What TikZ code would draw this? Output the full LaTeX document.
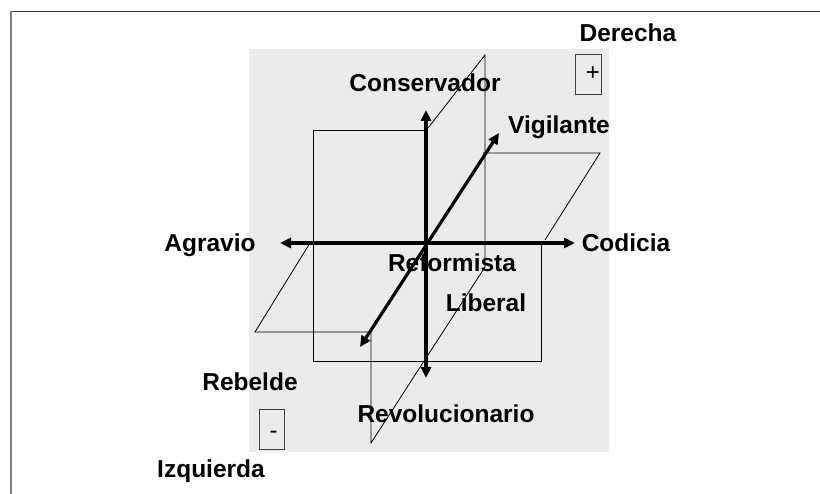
\documentclass[tikz,border=0pt]{standalone}
\usepackage{fontspec}
\setmainfont{Liberation Sans}
\usetikzlibrary{arrows.meta}

\tikzset{
  lbl/.style={font=\bfseries\fontsize{24.5}{28}\selectfont, inner sep=0pt, text height=17.5pt, text depth=0pt},
  sign/.style={font=\fontsize{24}{28}\selectfont, inner sep=0pt},
  signbox/.style={draw=black!75, line width=0.9pt, minimum width=26pt, minimum height=40pt, inner sep=0pt},
  plane/.style={black, line width=0.8pt},
  axis/.style={line width=3.2pt, {Triangle[length=11pt,width=10pt]}-{Triangle[length=11pt,width=10pt]}},
}

\begin{document}
\begin{tikzpicture}[x=1pt,y=-1pt]
\useasboundingbox (0,0) rectangle (820,494);

%Frame
\draw [black!75,line width=1.8pt] (10,11.5) -- (820,11.5);
\draw [black!50,line width=1.8pt] (11,11.5) -- (11,494);

%Defining grey color
\colorlet{PanelGrey}{black!8}
\fill [PanelGrey] (249,49) rectangle (609,452);

%front plane
\draw [plane] (426,130) -- (313,130) -- (313,361) -- (541,361) -- (541,243);
%depth plane
\draw [plane] (428,128) -- (485,55) -- (485,267);
\draw [plane] (371,332) -- (371,443) -- (485,267);
%floor plane
\draw [plane] (483,153) -- (600,153) -- (545,240);
\draw [plane] (310,243) -- (255,332) -- (370,332);

%axes
\coordinate (consTip) at (426,110);
\coordinate (revTip) at (426,378);
\coordinate (agrTip) at (280,243);
\coordinate (codTip) at (575,243);
\coordinate (vigTip) at (499,133);
\coordinate (rebTip) at (360,347);
\draw [axis] (revTip) -- (consTip);
\draw [axis] (agrTip) -- (codTip);
\draw [axis] (rebTip) -- (vigTip);

%labels
\node [lbl] (derecha) at (628,33) {Derecha};
\node [lbl] (conservador) at (425,82.5) {Conservador};
\node [lbl] (vigilante) at (559,125) {Vigilante};
\node [lbl] (agravio) at (210,243) {Agravio};
\node [lbl] (codicia) at (626,243) {Codicia};
\node [lbl] (reformista) at (452,263) {Reformista};
\node [lbl] (liberal) at (486,303) {Liberal};
\node [lbl] (rebelde) at (250,382) {Rebelde};
\node [lbl] (revolucionario) at (446,413.5) {Revolucionario};
\node [lbl] (izquierda) at (211,469) {Izquierda};

%signs
\node [signbox] (plusBox) at (588,74) {};
\node [sign] (plus) at (593,74) {+};
\node [signbox, minimum width=25pt] (minusBox) at (271.5,429) {};
\node [sign] (minus) at (273.5,435) {-};

\end{tikzpicture}
\end{document}
